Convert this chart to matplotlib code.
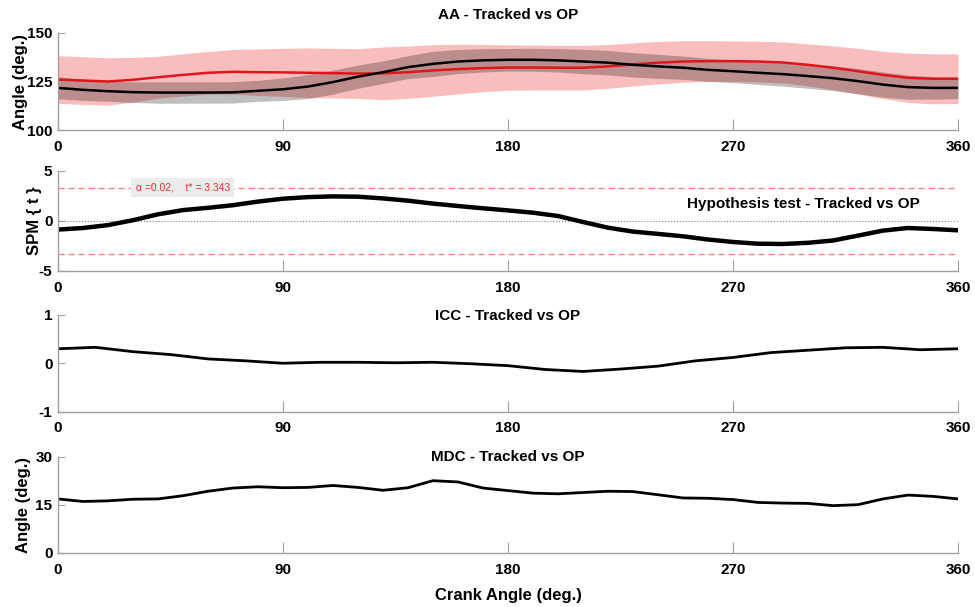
import numpy as np
import matplotlib.pyplot as plt

# crank angle grids
angle10 = np.arange(0, 361, 10)
angle15 = np.arange(0, 361, 15)

# AA - tracked (red) and OP (black): mean and SD, every 10 deg
aa_red_mean = [126.0, 125.5, 125.0, 125.9, 127.2, 128.4, 129.5, 130.0, 129.8, 129.7, 129.5, 129.3, 129.1,
               129.2, 129.8, 130.7, 131.4, 131.9, 132.2, 132.2, 132.1, 132.1, 132.8, 133.8, 134.7,
               135.3, 135.5, 135.5, 135.3, 134.8, 133.6, 132.1, 130.3, 128.4, 126.9, 126.4, 126.4]
aa_red_sd = [12.3, 12.3, 12.2, 11.5, 10.8, 10.9, 11.0, 11.5, 12.0, 12.4, 12.8, 12.8, 12.8,
             13.6, 13.5, 13.3, 12.8, 12.2, 11.7, 11.6, 11.5, 11.5, 11.3, 11.1, 11.0,
             10.7, 10.5, 10.4, 10.5, 10.6, 10.8, 11.3, 11.8, 12.2, 12.7, 12.9, 12.8]
aa_blk_mean = [121.7, 120.7, 120.0, 119.5, 119.3, 119.3, 119.3, 119.4, 120.2, 121.0, 122.4, 124.7, 127.5,
               129.8, 132.4, 134.1, 135.3, 135.9, 136.2, 136.2, 135.9, 135.3, 134.7, 133.6, 132.8,
               132.1, 131.0, 130.3, 129.5, 128.8, 127.8, 126.7, 125.2, 123.4, 122.1, 121.7, 121.7]
aa_blk_sd = [5.7, 5.4, 5.2, 5.3, 5.5, 5.5, 5.5, 5.5, 5.4, 5.8, 6.2, 6.2, 6.0,
             5.8, 5.9, 6.5, 6.2, 6.0, 5.8, 5.9, 6.0, 6.3, 6.3, 6.3, 6.2,
             6.0, 5.9, 5.9, 6.0, 6.2, 6.3, 6.4, 6.5, 6.5, 6.2, 5.8, 5.6]

# SPM{t}, every 10 deg
spm_t = [-0.86, -0.70, -0.41, 0.08, 0.67, 1.09, 1.32, 1.58, 1.94, 2.23, 2.39, 2.46, 2.43,
         2.26, 2.03, 1.74, 1.50, 1.27, 1.06, 0.83, 0.50, -0.10, -0.67, -1.06, -1.29,
         -1.53, -1.85, -2.10, -2.27, -2.30, -2.18, -1.95, -1.46, -0.96, -0.70, -0.80, -0.93]
t_crit = 3.343
alpha = 0.02

# ICC, every 15 deg
icc = [0.30, 0.33, 0.24, 0.18, 0.09, 0.05, 0.0, 0.02, 0.02, 0.01, 0.02, -0.01, -0.05,
       -0.13, -0.17, -0.12, -0.06, 0.05, 0.12, 0.22, 0.27, 0.32, 0.33, 0.28, 0.30]

# MDC, every 10 deg
mdc = [16.9, 16.1, 16.3, 16.8, 16.9, 17.9, 19.3, 20.3, 20.7, 20.4, 20.5, 21.1, 20.5, 19.6, 20.4,
       22.6, 22.2, 20.3, 19.5, 18.7, 18.5, 18.9, 19.3, 19.2, 18.2, 17.2, 17.1, 16.7, 15.8, 15.6,
       15.5, 14.8, 15.1, 16.9, 18.1, 17.7, 16.9]

xticks = [0, 90, 180, 270, 360]

plt.rcParams['font.family'] = ['Liberation Sans', 'DejaVu Sans']
plt.rcParams['font.weight'] = 'bold'
plt.rcParams['axes.unicode_minus'] = False

fig = plt.figure(figsize=(9.75, 6.07), dpi=100)

W, H = 975, 607
def add_ax(top, bottom):
    return fig.add_axes([58 / W, 1 - bottom / H, 900 / W, (bottom - top) / H])

ax1 = add_ax(33, 130)
ax2 = add_ax(171, 271)
ax3 = add_ax(315, 411.5)
ax4 = add_ax(457, 553)

for ax in (ax1, ax2, ax3, ax4):
    ax.set_xlim(0, 360)
    ax.set_xticks(xticks)
    for s in ('top', 'right'):
        ax.spines[s].set_visible(False)
    for s in ('left', 'bottom'):
        ax.spines[s].set_color('#a0a0a0')
        ax.spines[s].set_linewidth(1.0)
    ax.tick_params(direction='in', length=8, width=0.8, color='#a0a0a0',
                   labelsize=11, pad=7)
    ax.tick_params(axis='y', length=5, pad=4)
    for lab in ax.get_xticklabels() + ax.get_yticklabels():
        lab.set_fontweight('bold')

# AA panel
rm, rs = np.array(aa_red_mean), np.array(aa_red_sd)
bm, bs = np.array(aa_blk_mean), np.array(aa_blk_sd)
ax1.fill_between(angle10, rm - rs, rm + rs, color=(0.93, 0.0, 0.0), alpha=0.26, lw=0)
ax1.fill_between(angle10, bm - bs, bm + bs, color='black', alpha=0.25, lw=0)
ax1.plot(angle10, rm, color='#e0151b', lw=1.8)
ax1.plot(angle10, bm, color='black', lw=1.8)
ax1.set_ylim(100, 150)
ax1.set_yticks([100, 125, 150])
ax1.set_ylabel('Angle (deg.)', fontsize=12, fontweight='bold', labelpad=-1)
ax1.set_title('AA - Tracked vs OP', fontsize=11, fontweight='bold', pad=10)

# SPM panel
ax2.axhline(0, color='#808080', ls=':', lw=0.8)
ax2.axhline(t_crit, color='#ff5a5a', ls=(0, (5, 3)), lw=0.9, alpha=0.8)
ax2.axhline(-t_crit, color='#ff5a5a', ls=(0, (5, 3)), lw=0.9, alpha=0.8)
ax2.plot(angle10, spm_t, color='black', lw=3.2)
ax2.set_ylim(-5, 5)
ax2.set_yticks([-5, 0, 5])
ax2.set_ylabel('SPM { t }', fontsize=12, fontweight='bold', labelpad=-2)
ax2.text(31, t_crit, '\u03b1 =0.02,    t* = ' + f'{t_crit:.3f}', color='#f03030', fontsize=7.5,
         fontweight='normal', va='center', ha='left',
         bbox=dict(facecolor='#ececec', edgecolor='none', pad=3))
ax2.text(298, 1.7, 'Hypothesis test - Tracked vs OP', fontsize=11, fontweight='bold',
         ha='center', va='center')

# ICC panel
ax3.plot(angle15, icc, color='black', lw=2.0)
ax3.set_ylim(-1, 1)
ax3.set_yticks([-1, 0, 1])
ax3.text(0.5, 0.99, 'ICC - Tracked vs OP', transform=ax3.transAxes, fontsize=11,
         fontweight='bold', ha='center', va='center')

# MDC panel
ax4.plot(angle10, mdc, color='black', lw=2.0)
ax4.set_ylim(0, 30)
ax4.set_yticks([0, 15, 30])
ax4.set_ylabel('Angle (deg.)', fontsize=12, fontweight='bold', labelpad=3)
ax4.text(0.5, 1.0, 'MDC - Tracked vs OP', transform=ax4.transAxes, fontsize=11,
         fontweight='bold', ha='center', va='center')
ax4.set_xlabel('Crank Angle (deg.)', fontsize=12, fontweight='bold', labelpad=8)

fig.savefig('out.png', dpi=100)
